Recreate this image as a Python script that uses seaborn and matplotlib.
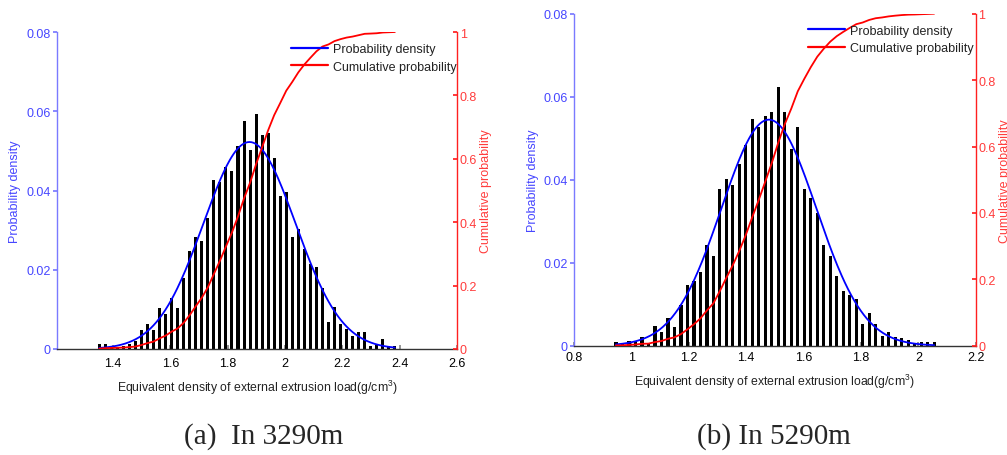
import numpy as np
import pandas as pd
import matplotlib
matplotlib.use("Agg")
import matplotlib.pyplot as plt
from matplotlib.lines import Line2D
from matplotlib.ticker import FuncFormatter
import seaborn as sns

# Relative frequency of each bin, depth 3290 m (50 bins)
freq_3290 = [0.0013, 0.0013, 0.0008, 0.0005, 0.0008, 0.0013, 0.0019, 0.0048, 0.0062, 0.0047,
             0.0103, 0.0088, 0.0128, 0.0103, 0.0180, 0.0247, 0.0282, 0.0273, 0.0330, 0.0427,
             0.0421, 0.0459, 0.0448, 0.0513, 0.0576, 0.0502, 0.0593, 0.0540, 0.0545, 0.0483,
             0.0387, 0.0395, 0.0282, 0.0303, 0.0252, 0.0215, 0.0206, 0.0153, 0.0067, 0.0107,
             0.0063, 0.0050, 0.0032, 0.0044, 0.0044, 0.0008, 0.0010, 0.0024, 0.0008, 0.0008]

# Relative frequency of each bin, depth 5290 m (50 bins)
freq_5290 = [0.0008, 0.0004, 0.0012, 0.0012, 0.0022, 0.0005, 0.0048, 0.0032, 0.0067, 0.0044,
             0.0098, 0.0147, 0.0155, 0.0177, 0.0243, 0.0216, 0.0378, 0.0402, 0.0388, 0.0437,
             0.0484, 0.0546, 0.0528, 0.0554, 0.0564, 0.0624, 0.0562, 0.0473, 0.0528, 0.0378,
             0.0356, 0.0320, 0.0243, 0.0216, 0.0167, 0.0131, 0.0121, 0.0113, 0.0052, 0.0078,
             0.0052, 0.0024, 0.0032, 0.0022, 0.0018, 0.0013, 0.0005, 0.0008, 0.0008, 0.0008]

# Histogram binning (first bin centre, bin width) in g/cm^3
bins_3290 = (1.3523, 0.02104)
bins_5290 = (0.9463, 0.02263)

xticks_3290 = [1.4, 1.6, 1.8, 2.0, 2.2, 2.4, 2.6]
xticks_5290 = [0.8, 1.0, 1.2, 1.4, 1.6, 1.8, 2.0, 2.2]
density_ticks = [0, 0.02, 0.04, 0.06, 0.08]
cumulative_ticks = [0, 0.2, 0.4, 0.6, 0.8, 1.0]

legend_labels = ["Probability density", "Cumulative probability"]
xlabel_text = "Equivalent density of external extrusion load(g/cm$^3$)"
captions = ["(a)  In 3290m", "(b) In 5290m"]

sns.set_theme(style="white")
plt.rcParams["font.family"] = ["Liberation Sans", "DejaVu Sans"]
plt.rcParams["mathtext.fontset"] = "custom"
plt.rcParams["mathtext.rm"] = "Liberation Sans"

BLUE_TXT = "#4646ff"
BLUE_SPINE = "#7a7aff"
RED_TXT = "#ff3c3c"
RED_SPINE = "#ff2020"

fig = plt.figure(figsize=(10.07, 4.56), dpi=100)
fmt = FuncFormatter(lambda v, p: "%g" % round(v, 4))


def panel(rect, freq, bins, xlim, xticks, leg_anchor, ylab_left_x, ylab_right_x, tick_pad):
    first, width = bins
    f = np.asarray(freq, dtype=float)
    centers = first + width * np.arange(len(f))
    edges = [float(e) for e in np.append(centers - width / 2, centers[-1] + width / 2)]
    df = pd.DataFrame({"center": centers, "freq": f})

    ax = fig.add_axes(rect)
    sns.histplot(data=df, x="center", weights="freq", bins=edges, shrink=0.5,
                 color="black", alpha=1, linewidth=0, ax=ax)

    # normal fit of the binned sample, scaled to bin frequency
    total = f.sum()
    mu = (centers * f).sum() / total
    sd = np.sqrt((((centers - mu) ** 2) * f).sum() / total)
    xs = np.linspace(centers[0], centers[-1], 300)
    pdf = width / (sd * np.sqrt(2 * np.pi)) * np.exp(-0.5 * ((xs - mu) / sd) ** 2)
    sns.lineplot(x=xs, y=pdf, color="blue", linewidth=1.3, ax=ax)

    ax2 = ax.twinx()
    cdf = np.cumsum(f) / total
    sns.lineplot(x=centers, y=cdf, color="red", linewidth=1.3, ax=ax2)

    ax.set_xlim(*xlim)
    ax.set_ylim(0, 0.08)
    ax2.set_ylim(0, 1)
    ax.set_xticks(xticks)
    ax.set_yticks(density_ticks)
    ax2.set_yticks(cumulative_ticks)
    ax.xaxis.set_major_formatter(fmt)
    ax.yaxis.set_major_formatter(fmt)
    ax2.yaxis.set_major_formatter(fmt)

    for s in ["top", "right"]:
        ax.spines[s].set_visible(False)
    for s in ["top", "left", "bottom"]:
        ax2.spines[s].set_visible(False)
    ax.spines["left"].set_color(BLUE_SPINE)
    ax.spines["bottom"].set_color("#333333")
    ax2.spines["right"].set_color(RED_SPINE)
    for sp in [ax.spines["left"], ax.spines["bottom"], ax2.spines["right"]]:
        sp.set_linewidth(1.0)

    ax.tick_params(axis="x", direction="in", length=3, color="#888888",
                   labelsize=9, labelcolor="black", pad=tick_pad, bottom=True)
    ax.tick_params(axis="y", direction="out", length=3, color=BLUE_SPINE,
                   labelsize=9, labelcolor=BLUE_TXT, pad=1.5, left=True)
    ax2.tick_params(axis="y", direction="in", length=3, color=RED_SPINE,
                    labelsize=9, labelcolor=RED_TXT, pad=2, right=True)

    ax.set_xlabel(xlabel_text, fontsize=8.8, color="#222222", labelpad=6)
    ax.set_ylabel("Probability density", fontsize=9, color=BLUE_TXT)
    ax.yaxis.set_label_coords(ylab_left_x, 0.5)
    ax2.set_ylabel("Cumulative probability", fontsize=9, color=RED_TXT)
    ax2.yaxis.set_label_coords(ylab_right_x, 0.5)

    handles = [Line2D([], [], color="blue", linewidth=1.6),
               Line2D([], [], color="red", linewidth=1.6)]
    leg = ax2.legend(handles, legend_labels, loc="upper left", bbox_to_anchor=leg_anchor,
                     frameon=False, fontsize=9, handlelength=3.0, handletextpad=0.4,
                     borderpad=0, borderaxespad=0, labelspacing=0.45)
    for t in leg.get_texts():
        t.set_color("#222222")
    return ax, ax2


panel([57 / 1007, 106 / 456, 400 / 1007, 317 / 456], freq_3290, bins_3290,
      (1.205, 2.6), xticks_3290, (0.585, 0.965), -0.09, 1.058, 6)
panel([574 / 1007, 109.3 / 456, 401.7 / 1007, 332 / 456], freq_5290, bins_5290,
      (0.8, 2.2), xticks_5290, (0.582, 0.967), -0.088, 1.058, 4)

fig.text(264 / 1007, 1 - 437 / 456, captions[0], ha="center", va="center",
         fontsize=21, family="Liberation Serif")
fig.text(774 / 1007, 1 - 437 / 456, captions[1], ha="center", va="center",
         fontsize=21, family="Liberation Serif")

fig.savefig("out.png", dpi=100, facecolor="white")
